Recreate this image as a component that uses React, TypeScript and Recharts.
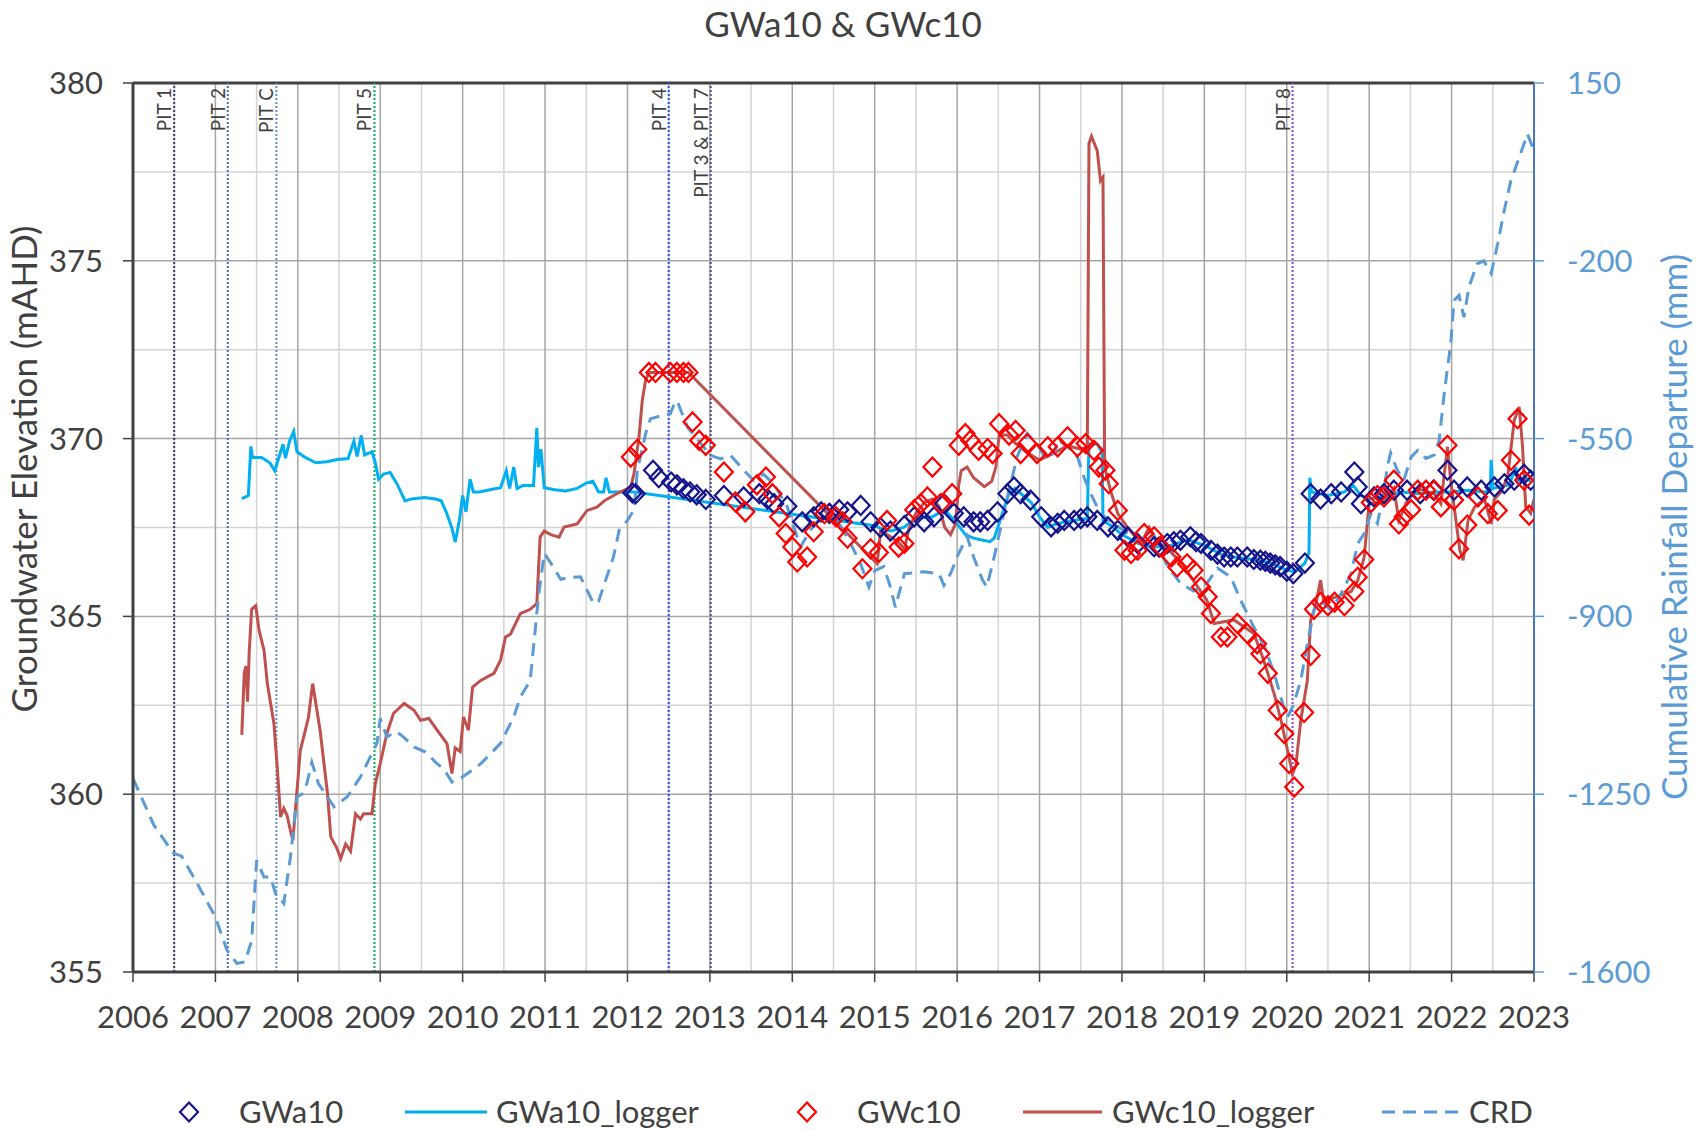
import React from "react"
import { ComposedChart, Line, Scatter, XAxis, YAxis, ReferenceLine } from "recharts"

// ticks
const yearTicks = [2006, 2007, 2008, 2009, 2010, 2011, 2012, 2013, 2014, 2015, 2016, 2017, 2018, 2019, 2020, 2021, 2022, 2023]
const levelTicks = [355, 360, 365, 370, 375, 380]
const crdTicks = [-1600, -1250, -900, -550, -200, 150]

// pit events
const pitNames = ["PIT 1", "PIT 2", "PIT C", "PIT 5", "PIT 4", "PIT 3 & PIT 7", "PIT 8"]
const pitYears = [2006.5, 2007.15, 2007.74, 2008.93, 2012.5, 2013.01, 2020.07]

// GWa10 manual readings (mAHD)
const gwa10: [number, number][] = [
  [2012.06, 368.47], [2012.1, 368.45], [2012.31, 369.11], [2012.38, 368.9], [2012.53, 368.78], [2012.6, 368.7],
  [2012.68, 368.59], [2012.76, 368.5], [2012.84, 368.42], [2012.95, 368.29], [2013.17, 368.4], [2013.41, 368.36],
  [2013.6, 368.45], [2013.7, 368.3], [2013.78, 368.17], [2013.94, 368.1], [2014.12, 367.66], [2014.26, 367.8],
  [2014.35, 367.94], [2014.45, 367.9], [2014.57, 368.0], [2014.67, 367.94], [2014.83, 368.12], [2014.95, 367.66],
  [2015.07, 367.5], [2015.19, 367.4], [2015.36, 367.55], [2015.48, 367.8], [2015.6, 367.66], [2015.72, 367.8],
  [2015.84, 368.17], [2015.96, 367.9], [2016.08, 367.8], [2016.2, 367.66], [2016.28, 367.66], [2016.37, 367.7],
  [2016.49, 367.94], [2016.61, 368.45], [2016.69, 368.64], [2016.77, 368.45], [2016.89, 368.27], [2017.02, 367.8],
  [2017.14, 367.52], [2017.22, 367.62], [2017.3, 367.7], [2017.42, 367.7], [2017.5, 367.75], [2017.58, 367.8],
  [2017.7, 367.7], [2017.83, 367.52], [2017.95, 367.42], [2018.07, 367.24], [2018.19, 367.05], [2018.39, 366.96],
  [2018.45, 366.95], [2018.55, 367.05], [2018.63, 367.1], [2018.71, 367.14], [2018.83, 367.24], [2018.9, 367.1],
  [2018.96, 367.05], [2019.08, 366.86], [2019.16, 366.75], [2019.24, 366.67], [2019.32, 366.67], [2019.4, 366.67],
  [2019.52, 366.67], [2019.6, 366.6], [2019.68, 366.58], [2019.74, 366.55], [2019.8, 366.5], [2019.86, 366.45],
  [2019.92, 366.4], [2020.0, 366.27], [2020.08, 366.2], [2020.22, 366.5], [2020.29, 368.45], [2020.41, 368.3],
  [2020.54, 368.45], [2020.66, 368.5], [2020.82, 369.06], [2020.86, 368.64], [2020.9, 368.17], [2021.06, 368.36],
  [2021.18, 368.45], [2021.3, 368.55], [2021.46, 368.55], [2021.62, 368.45], [2021.78, 368.55], [2021.95, 369.11],
  [2022.03, 368.55], [2022.19, 368.64], [2022.36, 368.55], [2022.52, 368.64], [2022.64, 368.73], [2022.76, 368.83],
  [2022.88, 369.0], [2022.96, 368.83],
]

// GWa10 logger (mAHD)
const gwa10Logger: [number, number][] = [
  [2007.32, 368.31], [2007.4, 368.4], [2007.43, 369.78], [2007.45, 369.47], [2007.56, 369.47], [2007.66, 369.32],
  [2007.72, 369.1], [2007.77, 369.47], [2007.82, 369.84], [2007.85, 369.45], [2007.9, 369.93], [2007.95, 370.2],
  [2007.99, 369.63], [2008.09, 369.47], [2008.22, 369.32], [2008.35, 369.35], [2008.48, 369.41], [2008.61, 369.44],
  [2008.68, 369.93], [2008.72, 369.5], [2008.77, 370.09], [2008.81, 369.54], [2008.9, 369.63], [2008.94, 369.32],
  [2008.98, 368.86], [2009.04, 369.0], [2009.12, 369.05], [2009.21, 368.7], [2009.3, 368.25], [2009.38, 368.3],
  [2009.54, 368.34], [2009.67, 368.3], [2009.74, 368.25], [2009.8, 367.94], [2009.87, 367.48], [2009.91, 367.09],
  [2009.96, 367.7], [2010.0, 368.4], [2010.04, 367.94], [2010.09, 368.86], [2010.13, 368.5], [2010.2, 368.5],
  [2010.33, 368.56], [2010.46, 368.62], [2010.53, 369.1], [2010.57, 368.6], [2010.62, 369.2], [2010.66, 368.6],
  [2010.73, 368.68], [2010.86, 368.68], [2010.9, 370.3], [2010.92, 369.2], [2010.95, 369.7], [2010.99, 368.62],
  [2011.12, 368.56], [2011.25, 368.53], [2011.39, 368.6], [2011.5, 368.75], [2011.58, 368.8], [2011.65, 368.5],
  [2011.71, 368.5], [2011.74, 368.9], [2011.78, 368.5], [2011.91, 368.5], [2012.08, 368.5], [2015.0, 367.55],
  [2015.1, 367.45], [2015.2, 367.4], [2015.35, 367.5], [2015.5, 367.75], [2015.7, 367.8], [2015.85, 368.0],
  [2016.0, 367.6], [2016.1, 367.3], [2016.2, 367.2], [2016.3, 367.15], [2016.4, 367.1], [2016.45, 367.2],
  [2016.55, 367.9], [2016.62, 368.4], [2016.7, 368.6], [2016.8, 368.4], [2016.9, 368.2], [2017.0, 367.8],
  [2017.1, 367.5], [2017.2, 367.6], [2017.4, 367.7], [2017.58, 367.75], [2017.6, 369.85], [2017.7, 369.85],
  [2017.76, 369.6], [2017.77, 367.7], [2017.9, 367.5], [2018.0, 367.3], [2018.2, 367.05], [2018.4, 366.95],
  [2018.6, 367.0], [2018.8, 367.15], [2019.0, 367.0], [2019.2, 366.75], [2019.4, 366.65], [2019.6, 366.6],
  [2019.8, 366.5], [2020.0, 366.3], [2020.1, 366.25], [2020.22, 366.5], [2020.27, 366.8], [2020.28, 368.9],
  [2020.3, 368.5], [2020.5, 368.4], [2020.7, 368.5], [2020.8, 368.7], [2020.9, 368.4], [2021.0, 368.3],
  [2021.2, 368.4], [2021.4, 368.5], [2021.6, 368.45], [2021.8, 368.5], [2022.0, 368.5], [2022.2, 368.55],
  [2022.4, 368.5], [2022.47, 368.55], [2022.48, 369.4], [2022.5, 368.6], [2022.7, 368.7], [2022.78, 369.2],
  [2022.8, 368.8], [2022.9, 368.9], [2022.96, 368.8],
]

// GWc10 manual readings (mAHD)
const gwc10: [number, number][] = [
  [2012.04, 369.48], [2012.12, 369.7], [2012.26, 371.86], [2012.34, 371.86], [2012.52, 371.86], [2012.6, 371.86],
  [2012.68, 371.86], [2012.74, 371.86], [2012.79, 370.47], [2012.87, 369.95], [2012.95, 369.81], [2013.17, 369.06],
  [2013.31, 368.22], [2013.43, 367.94], [2013.57, 368.7], [2013.68, 368.92], [2013.76, 368.45], [2013.84, 367.8],
  [2013.92, 367.33], [2014.0, 366.95], [2014.06, 366.53], [2014.18, 366.67], [2014.26, 367.38], [2014.39, 367.89],
  [2014.53, 367.8], [2014.61, 367.66], [2014.67, 367.2], [2014.85, 366.34], [2014.95, 366.9], [2015.05, 366.8],
  [2015.15, 367.7], [2015.29, 366.95], [2015.36, 367.05], [2015.48, 368.0], [2015.56, 368.17], [2015.64, 368.36],
  [2015.7, 369.2], [2015.8, 368.17], [2015.94, 368.45], [2016.02, 369.81], [2016.1, 370.14], [2016.16, 369.95],
  [2016.26, 369.67], [2016.37, 369.72], [2016.43, 369.58], [2016.51, 370.42], [2016.63, 370.1], [2016.71, 370.23],
  [2016.77, 369.58], [2016.85, 369.86], [2016.97, 369.58], [2017.1, 369.77], [2017.22, 369.77], [2017.34, 370.05],
  [2017.46, 369.77], [2017.56, 369.86], [2017.66, 369.67], [2017.72, 369.2], [2017.8, 369.11], [2017.84, 368.73],
  [2017.95, 367.98], [2018.03, 366.86], [2018.11, 366.77], [2018.19, 366.86], [2018.27, 367.33], [2018.39, 367.24],
  [2018.47, 366.96], [2018.6, 366.67], [2018.67, 366.39], [2018.79, 366.48], [2018.87, 366.3], [2018.96, 365.83],
  [2019.04, 365.55], [2019.08, 365.08], [2019.2, 364.42], [2019.28, 364.42], [2019.4, 364.8], [2019.52, 364.52],
  [2019.64, 364.23], [2019.68, 363.95], [2019.77, 363.4], [2019.89, 362.36], [2019.97, 361.7], [2020.03, 360.86],
  [2020.09, 360.2], [2020.21, 362.3], [2020.29, 363.9], [2020.33, 365.2], [2020.41, 365.4], [2020.5, 365.3],
  [2020.58, 365.4], [2020.7, 365.3], [2020.82, 365.7], [2020.86, 366.1], [2020.94, 366.6], [2021.02, 368.2],
  [2021.1, 368.4], [2021.18, 368.36], [2021.3, 368.83], [2021.36, 367.6], [2021.42, 367.8], [2021.51, 368.0],
  [2021.59, 368.55], [2021.69, 368.55], [2021.79, 368.55], [2021.87, 368.08], [2021.95, 369.81], [2022.03, 368.27],
  [2022.09, 366.9], [2022.19, 367.57], [2022.32, 368.36], [2022.44, 367.89], [2022.56, 367.98], [2022.72, 369.39],
  [2022.8, 370.56], [2022.88, 368.83], [2022.94, 367.85],
]

// GWc10 logger (mAHD)
const gwc10Logger: [number, number][] = [
  [2007.32, 361.67], [2007.35, 363.4], [2007.37, 363.6], [2007.39, 362.6], [2007.41, 364.0], [2007.44, 365.2],
  [2007.49, 365.3], [2007.53, 364.6], [2007.59, 364.05], [2007.63, 363.11], [2007.71, 361.99], [2007.75, 360.77],
  [2007.79, 359.36], [2007.83, 359.6], [2007.87, 359.4], [2007.91, 358.98], [2007.94, 358.7], [2007.99, 360.11],
  [2008.03, 361.23], [2008.07, 361.6], [2008.13, 362.17], [2008.18, 363.11], [2008.27, 361.8], [2008.36, 360.02],
  [2008.4, 358.8], [2008.47, 358.5], [2008.52, 358.19], [2008.58, 358.6], [2008.64, 358.4], [2008.7, 359.45],
  [2008.76, 359.3], [2008.8, 359.45], [2008.9, 359.45], [2008.94, 360.3], [2009.0, 360.86], [2009.08, 361.7],
  [2009.16, 362.27], [2009.29, 362.55], [2009.41, 362.36], [2009.49, 362.08], [2009.59, 362.13], [2009.69, 361.8],
  [2009.81, 361.42], [2009.87, 360.58], [2009.91, 361.3], [2009.97, 361.2], [2010.01, 362.17], [2010.07, 361.8],
  [2010.12, 363.01], [2010.22, 363.2], [2010.3, 363.3], [2010.38, 363.4], [2010.46, 363.77], [2010.52, 364.42],
  [2010.58, 364.5], [2010.7, 365.08], [2010.82, 365.2], [2010.9, 365.36], [2010.94, 367.23], [2010.99, 367.4],
  [2011.07, 367.3], [2011.17, 367.23], [2011.23, 367.51], [2011.39, 367.6], [2011.51, 367.98], [2011.63, 368.07],
  [2011.73, 368.27], [2011.87, 368.45], [2012.04, 368.64], [2012.08, 369.02], [2012.14, 370.05], [2012.18, 371.08],
  [2012.22, 371.64], [2012.26, 371.86], [2012.74, 371.86], [2015.03, 366.48], [2015.07, 367.4], [2015.15, 367.3],
  [2015.28, 367.1], [2015.36, 366.9], [2015.42, 367.5], [2015.5, 367.9], [2015.6, 368.2], [2015.7, 368.3],
  [2015.78, 368.1], [2015.85, 367.5], [2015.92, 367.3], [2015.98, 367.6], [2016.02, 368.7], [2016.05, 369.1],
  [2016.12, 369.2], [2016.2, 368.9], [2016.33, 368.65], [2016.42, 368.8], [2016.47, 369.2], [2016.51, 370.1],
  [2016.61, 370.1], [2016.69, 369.9], [2016.85, 369.6], [2017.0, 369.4], [2017.18, 369.6], [2017.34, 369.8],
  [2017.5, 369.7], [2017.58, 369.77], [2017.6, 378.3], [2017.63, 378.5], [2017.7, 378.1], [2017.74, 377.25],
  [2017.77, 377.35], [2017.79, 369.2], [2017.86, 368.55], [2017.95, 367.89], [2018.07, 367.5], [2018.23, 367.05],
  [2018.33, 367.5], [2018.43, 367.1], [2018.6, 366.8], [2018.75, 366.4], [2018.92, 365.83], [2019.03, 365.46],
  [2019.12, 364.8], [2019.36, 364.9], [2019.6, 364.52], [2019.7, 363.9], [2019.77, 363.4], [2019.85, 362.8],
  [2019.93, 362.08], [2020.0, 361.33], [2020.07, 360.58], [2020.11, 360.8], [2020.17, 362.08], [2020.25, 363.2],
  [2020.29, 364.89], [2020.35, 365.3], [2020.41, 366.02], [2020.45, 365.4], [2020.54, 365.5], [2020.66, 365.6],
  [2020.78, 365.7], [2020.86, 366.0], [2020.94, 366.67], [2020.98, 367.7], [2021.0, 368.17], [2021.18, 368.2],
  [2021.3, 368.6], [2021.36, 367.7], [2021.45, 368.2], [2021.58, 368.6], [2021.79, 368.45], [2021.87, 368.17],
  [2021.95, 369.77], [2021.99, 368.8], [2022.03, 368.1], [2022.1, 366.86], [2022.14, 366.58], [2022.2, 367.7],
  [2022.28, 368.08], [2022.4, 368.3], [2022.48, 367.6], [2022.52, 368.3], [2022.6, 368.5], [2022.68, 368.92],
  [2022.76, 370.51], [2022.82, 370.89], [2022.86, 369.8], [2022.9, 368.08], [2022.96, 367.9], [2023.0, 368.3],
]

// cumulative rainfall departure (mm)
const crd: [number, number][] = [
  [2006.0, -1219], [2006.1, -1255], [2006.25, -1310], [2006.49, -1366], [2006.59, -1372], [2006.78, -1426],
  [2007.0, -1492], [2007.14, -1557], [2007.26, -1583], [2007.36, -1580], [2007.44, -1538], [2007.5, -1380],
  [2007.59, -1413], [2007.67, -1413], [2007.73, -1446], [2007.83, -1465], [2007.91, -1374], [2007.99, -1255],
  [2008.05, -1250], [2008.11, -1229], [2008.17, -1187], [2008.25, -1229], [2008.44, -1275], [2008.6, -1255],
  [2008.76, -1216], [2008.96, -1150], [2009.0, -1101], [2009.08, -1137], [2009.2, -1127], [2009.28, -1137],
  [2009.41, -1157], [2009.55, -1167], [2009.69, -1190], [2009.77, -1200], [2009.87, -1226], [2010.0, -1216],
  [2010.22, -1190], [2010.46, -1150], [2010.62, -1098], [2010.7, -1059], [2010.82, -1026], [2010.92, -861],
  [2010.99, -776], [2011.05, -790], [2011.19, -827], [2011.31, -823], [2011.43, -822], [2011.59, -875],
  [2011.65, -870], [2011.83, -783], [2011.9, -730], [2012.0, -711], [2012.08, -690], [2012.12, -612],
  [2012.24, -527], [2012.28, -511], [2012.41, -505], [2012.52, -501], [2012.56, -485], [2012.6, -475],
  [2012.73, -528], [2012.89, -560], [2013.01, -583], [2013.13, -590], [2013.25, -583], [2013.41, -612],
  [2013.53, -632], [2013.65, -620], [2013.78, -640], [2013.94, -685], [2014.1, -763], [2014.22, -730],
  [2014.35, -704], [2014.51, -700], [2014.71, -757], [2014.83, -797], [2014.93, -842], [2015.0, -810],
  [2015.11, -802], [2015.19, -842], [2015.25, -882], [2015.36, -816], [2015.6, -812], [2015.78, -816],
  [2015.84, -839], [2015.92, -816], [2016.0, -783], [2016.12, -742], [2016.2, -783], [2016.31, -829],
  [2016.36, -842], [2016.45, -783], [2016.53, -724], [2016.61, -665], [2016.73, -585], [2016.85, -540],
  [2016.97, -560], [2017.06, -586], [2017.18, -579], [2017.22, -552], [2017.34, -566], [2017.46, -586],
  [2017.54, -626], [2017.62, -658], [2017.74, -698], [2017.9, -717], [2018.07, -737], [2018.23, -757],
  [2018.39, -744], [2018.55, -800], [2018.71, -835], [2018.87, -850], [2019.03, -835], [2019.16, -805],
  [2019.32, -822], [2019.44, -868], [2019.6, -921], [2019.73, -960], [2019.85, -1013], [2019.95, -1072],
  [2020.01, -1098], [2020.08, -1075], [2020.17, -1026], [2020.25, -954], [2020.33, -888], [2020.4, -868],
  [2020.54, -888], [2020.66, -855], [2020.78, -816], [2020.86, -757], [2020.94, -737], [2021.02, -698],
  [2021.1, -717], [2021.18, -652], [2021.22, -606], [2021.26, -578], [2021.34, -612], [2021.42, -632],
  [2021.51, -586], [2021.59, -573], [2021.69, -589], [2021.79, -582], [2021.85, -553], [2021.91, -461],
  [2021.99, -363], [2022.03, -278], [2022.09, -268], [2022.15, -311], [2022.21, -252], [2022.31, -206],
  [2022.39, -200], [2022.48, -225], [2022.56, -166], [2022.64, -100], [2022.72, -42], [2022.85, 17],
  [2022.92, 50], [2023.0, 17],
]

const FONT = "Lato, 'Open Sans', sans-serif"
const TEXT = "#404040"
const CRD_BLUE = "#5B9BD5"
const NAVY = "#14148C"
const RED = "#FF0000"
const CYAN = "#00B0F0"
const BROWN = "#C0504D"
const pitColors = ["#3E3A66", "#4A6BB5", "#5B8FD5", "#00B050", "#1F4FE0", "#5A4A8A", "#9444CC"]

const toRows = (pts: [number, number][]) => pts.map(([x, y]) => ({ x, y }))

const diamondPath = (cx: number, cy: number) => `M${cx},${cy - 9.5}L${cx + 9},${cy}L${cx},${cy + 9.5}L${cx - 9},${cy}Z`

const diamond = (color: string) => (props: any) => {
  const { cx, cy } = props
  if (cx == null || cy == null) return <g />
  return <path d={diamondPath(cx, cy)} fill="none" stroke={color} strokeWidth={2.2} />
}

const pitLabel = (text: string) => (props: any) => {
  const vb = props.viewBox || {}
  const x = (vb.x ?? 0) - 3
  const y = (vb.y ?? 0) + 5
  return (
    <text
      x={x}
      y={y}
      transform={`rotate(-90 ${x} ${y})`}
      textAnchor="end"
      fontSize={19}
      fontFamily={FONT}
      fill={TEXT}
    >
      {text}
    </text>
  )
}

const W = 1706
const H = 1130

export default function App() {
  const minorYears = yearTicks.slice(0, -1).map((y) => y + 0.5)
  const minorLevels = levelTicks.slice(0, -1).map((v) => v + 2.5)

  return (
    <div style={{ position: "absolute", left: 0, top: 0, width: W, height: H, background: "#fff", fontFamily: FONT }}>
      <ComposedChart width={W} height={H} margin={{ top: 83, right: 72, bottom: 98, left: 43 }}>
        <XAxis
          dataKey="x"
          type="number"
          domain={[2006, 2023]}
          allowDataOverflow
          ticks={yearTicks}
          interval={0}
          height={60}
          tickSize={10}
          tickMargin={24}
          tick={{ fill: TEXT, fontSize: 31, fontFamily: FONT }}
          axisLine={{ stroke: TEXT, strokeWidth: 3 }}
          tickLine={{ stroke: TEXT, strokeWidth: 1.5 }}
        />
        <YAxis
          yAxisId="left"
          type="number"
          domain={[355, 380]}
          allowDataOverflow
          ticks={levelTicks}
          interval={0}
          width={90}
          tickSize={10}
          tickMargin={20}
          tick={{ fill: TEXT, fontSize: 31, fontFamily: FONT }}
          axisLine={{ stroke: TEXT, strokeWidth: 3 }}
          tickLine={{ stroke: TEXT, strokeWidth: 1.5 }}
        />
        <YAxis
          yAxisId="right"
          orientation="right"
          type="number"
          domain={[-1600, 150]}
          allowDataOverflow
          ticks={crdTicks}
          interval={0}
          width={100}
          tickSize={10}
          tickMargin={23}
          tick={{ fill: CRD_BLUE, fontSize: 31, fontFamily: FONT }}
          axisLine={{ stroke: "#4A78C0", strokeWidth: 2 }}
          tickLine={{ stroke: CRD_BLUE, strokeWidth: 1.5 }}
        />

        {/* grid */}
        {minorYears.map((y) => (
          <ReferenceLine key={"mx" + y} x={y} yAxisId="left" stroke="#D4D4D4" strokeWidth={1.5} />
        ))}
        {minorLevels.map((v) => (
          <ReferenceLine key={"my" + v} y={v} yAxisId="left" stroke="#D4D4D4" strokeWidth={1.5} />
        ))}
        {yearTicks.slice(1, -1).map((y) => (
          <ReferenceLine key={"gx" + y} x={y} yAxisId="left" stroke="#A6A6A6" strokeWidth={1.5} />
        ))}
        {levelTicks.slice(1, -1).map((v) => (
          <ReferenceLine key={"gy" + v} y={v} yAxisId="left" stroke="#A6A6A6" strokeWidth={1.5} />
        ))}
        <ReferenceLine y={380} yAxisId="left" stroke={TEXT} strokeWidth={3} />

        {/* pit events */}
        {pitYears.map((yr, i) => (
          <ReferenceLine
            key={pitNames[i]}
            x={yr}
            yAxisId="left"
            stroke={pitColors[i]}
            strokeWidth={2}
            strokeDasharray="2 2"
            label={pitLabel(pitNames[i])}
          />
        ))}

        <Line
          data={toRows(gwa10Logger)}
          dataKey="y"
          yAxisId="left"
          type="linear"
          stroke={CYAN}
          strokeWidth={3}
          dot={false}
          isAnimationActive={false}
        />
        <Line
          data={toRows(gwc10Logger)}
          dataKey="y"
          yAxisId="left"
          type="linear"
          stroke={BROWN}
          strokeWidth={3}
          dot={false}
          isAnimationActive={false}
        />
        <Scatter data={toRows(gwa10)} dataKey="y" yAxisId="left" shape={diamond(NAVY)} isAnimationActive={false} />
        <Scatter data={toRows(gwc10)} dataKey="y" yAxisId="left" shape={diamond(RED)} isAnimationActive={false} />
        <Line
          data={toRows(crd)}
          dataKey="y"
          yAxisId="right"
          type="linear"
          stroke={CRD_BLUE}
          strokeWidth={3}
          strokeDasharray="13 8"
          dot={false}
          isAnimationActive={false}
        />
      </ComposedChart>

      <svg width={W} height={H} style={{ position: "absolute", left: 0, top: 0, pointerEvents: "none" }}>
        <text x={843} y={37} textAnchor="middle" fontSize={35} fontFamily={FONT} fill={TEXT}>
          GWa10 &amp; GWc10
        </text>
        <text
          x={37}
          y={469}
          transform="rotate(-90 37 469)"
          textAnchor="middle"
          fontSize={35}
          fontFamily={FONT}
          fill={TEXT}
        >
          Groundwater Elevation (mAHD)
        </text>
        <text
          x={1687}
          y={527}
          transform="rotate(-90 1687 527)"
          textAnchor="middle"
          fontSize={35}
          fontFamily={FONT}
          fill={CRD_BLUE}
        >
          Cumulative Rainfall Departure (mm)
        </text>

        {/* legend */}
        <g fontSize={31} fontFamily={FONT} fill={TEXT}>
          <path d={diamondPath(189, 1112)} fill="none" stroke={NAVY} strokeWidth={2.2} />
          <text x={239} y={1123}>GWa10</text>
          <line x1={405} y1={1112} x2={487} y2={1112} stroke={CYAN} strokeWidth={3} />
          <text x={496} y={1123}>GWa10_logger</text>
          <path d={diamondPath(807, 1112)} fill="none" stroke={RED} strokeWidth={2.2} />
          <text x={857} y={1123}>GWc10</text>
          <line x1={1023} y1={1112} x2={1102} y2={1112} stroke={BROWN} strokeWidth={3} />
          <text x={1112} y={1123}>GWc10_logger</text>
          <line x1={1382} y1={1112} x2={1458} y2={1112} stroke={CRD_BLUE} strokeWidth={3} strokeDasharray="13 8" />
          <text x={1469} y={1123}>CRD</text>
        </g>
      </svg>
    </div>
  )
}
